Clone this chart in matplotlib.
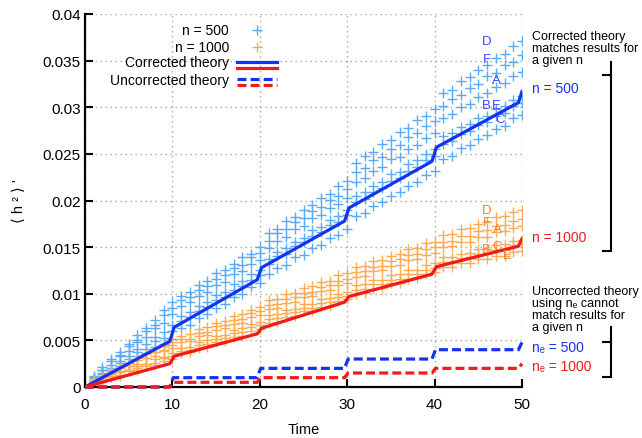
import matplotlib
matplotlib.use('Agg')
import matplotlib.pyplot as plt
from matplotlib.lines import Line2D
from matplotlib.ticker import MultipleLocator, FuncFormatter

plt.rcParams['font.family'] = ['Liberation Sans', 'DejaVu Sans']

# ---------------- data (values in units of 1e-4) ----------------
SCALE = 1e-4
time = list(range(1, 51))

n500_D = [12, 21, 30, 37, 46, 56, 63, 72, 83, 91, 98, 102, 109, 114, 122, 126, 132, 139, 143, 150,
          165, 169, 178, 182, 190, 195, 203, 207, 216, 221, 240, 248, 252, 261, 265, 273, 278, 286, 291, 298,
          315, 319, 328, 332, 340, 345, 353, 357, 366, 371]
n500_F = [11, 18, 28, 34, 44, 50, 60, 67, 77, 85, 93, 97, 104, 108, 116, 120, 128, 131, 139, 144,
          157, 165, 169, 177, 181, 189, 193, 201, 205, 212, 231, 235, 243, 247, 255, 259, 268, 272, 280, 285,
          301, 309, 313, 321, 325, 333, 337, 345, 349, 356]
n500_A = [10, 18, 24, 33, 39, 48, 54, 63, 69, 78, 87, 91, 98, 102, 109, 113, 121, 124, 132, 136,
          149, 157, 161, 169, 173, 181, 184, 192, 196, 203, 220, 224, 232, 236, 244, 247, 255, 259, 267, 272,
          289, 293, 300, 304, 311, 315, 322, 326, 333, 338]
n500_B = [8, 15, 20, 28, 33, 41, 46, 54, 59, 66, 76, 80, 87, 91, 99, 102, 110, 114, 121, 126,
          137, 145, 149, 156, 160, 168, 172, 179, 183, 190, 205, 209, 216, 220, 228, 231, 239, 243, 250, 255,
          269, 272, 279, 282, 289, 291, 298, 301, 308, 312]
n500_E = [7, 14, 18, 26, 30, 37, 41, 49, 53, 60, 71, 75, 82, 86, 93, 97, 104, 108, 115, 120,
          132, 140, 143, 151, 155, 162, 166, 174, 177, 184, 198, 202, 209, 213, 221, 224, 232, 236, 243, 248,
          261, 264, 271, 274, 281, 284, 291, 294, 301, 305]
n500_C = [6, 12, 15, 22, 26, 33, 36, 43, 46, 52, 63, 67, 74, 78, 85, 89, 96, 100, 107, 112,
          121, 128, 131, 139, 142, 149, 152, 160, 163, 169, 183, 187, 194, 198, 205, 209, 216, 220, 227, 232,
          245, 248, 256, 259, 266, 270, 277, 280, 288, 292]

n1000_D = [7, 11, 17, 20, 26, 29, 35, 38, 44, 48, 55, 57, 62, 64, 69, 71, 76, 78, 83, 86,
           93, 94, 100, 101, 106, 108, 113, 114, 120, 122, 129, 130, 135, 136, 141, 143, 148, 149, 154, 156,
           163, 164, 169, 170, 175, 177, 182, 183, 188, 190]
n1000_F = [6, 11, 14, 20, 22, 29, 31, 37, 40, 45, 51, 52, 58, 59, 65, 66, 72, 73, 79, 81,
           88, 89, 94, 96, 101, 102, 107, 109, 114, 116, 123, 124, 129, 130, 135, 137, 142, 143, 148, 150,
           156, 157, 162, 162, 167, 168, 173, 174, 178, 180]
n1000_A = [6, 9, 15, 17, 23, 25, 31, 33, 39, 42, 48, 49, 55, 56, 61, 63, 68, 69, 75, 77,
           84, 85, 90, 91, 96, 98, 103, 104, 109, 111, 118, 119, 124, 125, 130, 131, 136, 137, 142, 144,
           150, 151, 155, 156, 161, 161, 166, 167, 171, 173]
n1000_B = [5, 9, 11, 16, 18, 23, 25, 30, 32, 36, 42, 43, 48, 50, 55, 56, 61, 63, 68, 70,
           77, 78, 83, 84, 89, 89, 94, 95, 100, 102, 109, 110, 115, 115, 120, 121, 126, 126, 131, 133,
           139, 139, 143, 144, 148, 148, 152, 153, 157, 158]
n1000_C = [5, 7, 12, 13, 18, 20, 25, 26, 31, 33, 39, 40, 45, 46, 51, 53, 58, 59, 64, 66,
           73, 74, 79, 80, 85, 85, 90, 91, 96, 98, 104, 105, 110, 110, 115, 116, 121, 121, 126, 128,
           134, 134, 138, 139, 143, 143, 147, 148, 152, 153]
n1000_E = [4, 6, 11, 12, 17, 18, 23, 24, 28, 30, 36, 37, 42, 43, 48, 49, 54, 55, 60, 62,
           69, 70, 75, 76, 81, 81, 86, 87, 92, 94, 100, 101, 105, 106, 111, 111, 116, 117, 121, 123,
           129, 129, 133, 133, 137, 137, 141, 141, 145, 146]

theory_t = [0, 9.7, 10.2, 19.7, 20.2, 29.7, 30.2, 39.7, 40.2, 49.6, 50]
corr_500 = [0, 49, 64, 115, 128, 178, 192, 242, 257, 305, 317]
corr_1000 = [0, 25, 33, 57, 63, 91, 97, 121, 129, 151, 159]
uncorr_t = [0, 9.7, 10.1, 19.7, 20.1, 29.7, 30.1, 39.7, 40.1, 49.6, 50]
uncorr_500 = [0, 0, 10, 10, 20, 20, 30, 30, 40, 40, 48]
uncorr_1000 = [0, 0, 5, 5, 10, 10, 15, 15, 20, 20, 25]

series_500 = [n500_D, n500_F, n500_A, n500_B, n500_E, n500_C]
series_1000 = [n1000_D, n1000_F, n1000_A, n1000_B, n1000_C, n1000_E]

def sc(v):
    return [x * SCALE for x in v]

# ---------------- styles ----------------
C_LBLUE = '#5aaaf8'
C_ORANGE = '#ffab52'
C_BLUE = '#1433f0'
C_RED = '#f01a1a'
C_LET_B = '#3a48ff'
C_LET_O = '#ff7a35'
DASH = (2.8, 1.3)

W, H = 642, 439
fig = plt.figure(figsize=(W / 100, H / 100), dpi=100)
x0, x1, y0, y1 = 85, 522, 388, 15
ax = fig.add_axes([x0 / W, 1 - y0 / H, (x1 - x0) / W, (y0 - y1) / H])

for s in series_500:
    ax.plot(time, sc(s), linestyle='none', marker='+', ms=7.5, mew=1.0, color=C_LBLUE, zorder=2)
for s in series_1000:
    ax.plot(time, sc(s), linestyle='none', marker='+', ms=7.5, mew=1.0, color=C_ORANGE, zorder=2)

ax.plot(uncorr_t, sc(uncorr_500), color=C_BLUE, lw=2.3, dashes=DASH, zorder=3, clip_on=False)
ax.plot(uncorr_t, sc(uncorr_1000), color=C_RED, lw=2.3, dashes=DASH, zorder=3, clip_on=False)
ax.plot(theory_t, sc(corr_500), color=C_BLUE, lw=2.3, zorder=4)
ax.plot(theory_t, sc(corr_1000), color=C_RED, lw=2.3, zorder=4)

# series letter labels
for txt, (tx, ty) in zip(['D', 'F', 'A', 'B', 'E', 'C'],
                         [(46.0, 0.0371), (46.0, 0.0352), (47.1, 0.0329), (45.9, 0.0302), (47.1, 0.0302), (47.5, 0.0287)]):
    ax.text(tx, ty, txt, color=C_LET_B, fontsize=9.5, ha='center', va='center', zorder=5)
for txt, (tx, ty) in zip(['D', 'F', 'A', 'B', 'C', 'E'],
                         [(46.0, 0.0190), (46.0, 0.0177), (47.2, 0.0169), (45.9, 0.0148), (47.1, 0.0151), (48.3, 0.0142)]):
    ax.text(tx, ty, txt, color=C_LET_O, fontsize=9.5, ha='center', va='center', zorder=5)

ax.set_xlim(0, 50)
ax.set_ylim(0, 0.04)
ax.xaxis.set_major_locator(MultipleLocator(10))
ax.yaxis.set_major_locator(MultipleLocator(0.005))
ax.yaxis.set_major_formatter(FuncFormatter(lambda v, p: '%g' % round(v, 4)))
ax.grid(True, color='#a5a5a5', lw=1.0, linestyle=(0, (1, 2.6)))
ax.set_axisbelow(True)
for side in ['top', 'right']:
    ax.spines[side].set_visible(False)
for side in ['left', 'bottom']:
    ax.spines[side].set_linewidth(1.6)
ax.tick_params(direction='in', length=6, width=1.5, labelsize=11)
ax.tick_params(axis='x', pad=7)
ax.tick_params(axis='y', pad=3)
ax.set_xlabel('Time', fontsize=10.5, labelpad=8)
ax.set_ylabel('⟨ h ² ⟩ \'', fontsize=10.5, labelpad=12)

# ---------------- legend (gnuplot style: text then sample) ----------------
def px(X, Y):
    return X / W, 1 - Y / H

fs_leg = 10
for label, Y in [('n = 500', 31), ('n = 1000', 48), ('Corrected theory', 63), ('Uncorrected theory', 81)]:
    fig.text(*px(229, Y), label, ha='right', va='center', fontsize=fs_leg)
fig.add_artist(Line2D([px(257, 0)[0]], [px(0, 31)[1]], marker='+', ms=7.5, mew=1.0, color=C_LBLUE, linestyle='none'))
fig.add_artist(Line2D([px(257, 0)[0]], [px(0, 48)[1]], marker='+', ms=7.5, mew=1.0, color=C_ORANGE, linestyle='none'))
fig.add_artist(Line2D([px(237, 0)[0], px(277, 0)[0]], [px(0, 63.3)[1]] * 2, color=C_BLUE, lw=2.3))
fig.add_artist(Line2D([px(237, 0)[0], px(277, 0)[0]], [px(0, 69.3)[1]] * 2, color=C_RED, lw=2.3))
fig.add_artist(Line2D([px(237, 0)[0], px(277, 0)[0]], [px(0, 80)[1]] * 2, color=C_BLUE, lw=2.3, dashes=DASH))
fig.add_artist(Line2D([px(237, 0)[0], px(277, 0)[0]], [px(0, 86)[1]] * 2, color=C_RED, lw=2.3, dashes=DASH))

# ---------------- right-hand annotations ----------------
fs_ann = 9
fig.text(*px(532, 31), 'Corrected theory\nmatches results for\na given n', ha='left', va='top',
         fontsize=fs_ann, linespacing=1.0)
fig.text(*px(532, 89), 'n = 500', ha='left', va='center', fontsize=10, color=C_BLUE)
fig.text(*px(532, 238), 'n = 1000', ha='left', va='center', fontsize=10, color=C_RED)
fig.text(*px(532, 286), 'Uncorrected theory\nusing nₑ cannot\nmatch results for\na given n', ha='left', va='top',
         fontsize=fs_ann, linespacing=1.0)
fig.text(*px(532, 348), 'nₑ = 500', ha='left', va='center', fontsize=10, color=C_BLUE)
fig.text(*px(532, 367), 'nₑ = 1000', ha='left', va='center', fontsize=10, color=C_RED)

def bracket(ytop, ymid, ybot):
    xs = px(611, 0)[0]
    xl = px(603, 0)[0]
    fig.add_artist(Line2D([xs, xs], [px(0, ytop)[1], px(0, ybot)[1]], color='black', lw=1.5))
    fig.add_artist(Line2D([xl, xs], [px(0, ymid)[1]] * 2, color='black', lw=1.5))
    fig.add_artist(Line2D([xl, xs], [px(0, ybot)[1]] * 2, color='black', lw=1.5))

bracket(63, 76, 252)
bracket(328, 343, 378)

fig.savefig('out.png', dpi=100)
